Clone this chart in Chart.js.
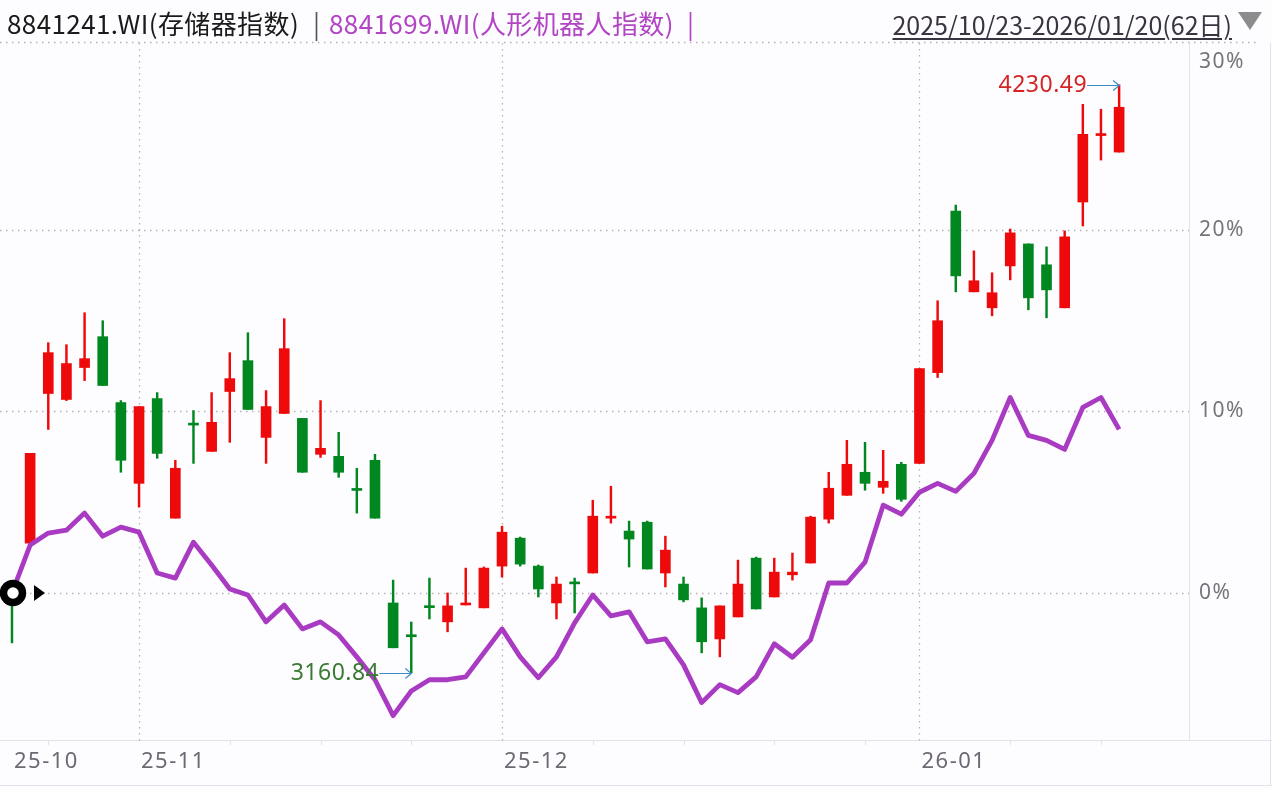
<!DOCTYPE html>
<html>
<head>
<meta charset="utf-8">
<script src="https://cdn.jsdelivr.net/npm/chart.js@4.4.1/dist/chart.umd.min.js"></script>
<style>
  body { margin: 0; background: #fdfdff; width: 1272px; height: 788px; overflow: hidden; position: relative;
         font-family: "Noto Sans CJK SC", "Noto Sans", sans-serif; }
  #chart { position: absolute; left: 0; top: 0; }
  .hd { position: absolute; top: 3px; font-size: 26px; letter-spacing: 0.4px; line-height: 40px; white-space: nowrap; }
  .k { color: #1a1a1a; }
  .p { color: #b145c3; }
  .sep { color: #555; }
  #range { right: 40px; font-size: 25px; letter-spacing: 0; top: 4px; color: #3a3340;
           text-decoration: underline; text-underline-offset: 3px; }
  #tri { position: absolute; left: 1238px; top: 12px; width: 0; height: 0;
         border-left: 12px solid transparent; border-right: 12px solid transparent; border-top: 18px solid #8c8c8c; }
</style>
</head>
<body>
<canvas id="chart" width="1272" height="788"></canvas>
<div class="hd k" style="left:7px">8841241.WI(存储器指数)</div>
<div class="hd sep" style="left:313px">|</div>
<div class="hd p" style="left:329px">8841699.WI(人形机器人指数)</div>
<div class="hd p" style="left:687px">|</div>
<div class="hd" id="range">2025/10/23-2026/01/20(62日)</div>
<div id="tri"></div>
<script>
// 8841241.WI 存储器指数, % change vs 2025/10/23 close
const opens  = [0.3, 2.75, 10.99, 10.66, 12.42, 14.12, 10.49, 6.04, 10.71, 4.12,
                9.35, 7.8, 11.1, 12.8, 8.57, 9.89, 9.62, 7.64, 7.53, 5.75,
                7.31, -0.55, -2.3, -0.7, -1.59, -0.66, -0.82, 1.48, 3.02, 1.48,
                -0.55, 0.6, 1.1, 4.12, 3.41, 3.9, 1.1, 0.49, -0.82, -2.53,
                -1.32, 1.92, -0.22, 1.0, 1.65, 4.07, 5.38, 6.65, 5.82, 7.09,
                7.14, 12.14, 21.04, 16.59, 15.71, 18.02, 19.23, 18.08, 15.71, 21.54,
                25.2, 24.29];
const highs  = [0.5, 7.69, 13.79, 13.68, 15.44, 15.0, 10.6, 10.27, 11.04, 7.31,
                10.05, 11.04, 13.24, 14.34, 11.15, 15.11, 9.62, 10.6, 8.85, 6.87,
                7.64, 0.71, -1.6, 0.82, 0, 1.37, 1.43, 3.68, 3.08, 1.54,
                0.88, 0.82, 5.11, 5.88, 3.96, 3.96, 3.13, 0.88, -0.27, -0.71,
                1.81, 1.98, 1.92, 2.2, 4.23, 6.65, 8.41, 8.3, 7.86, 7.2,
                12.36, 16.1, 21.37, 18.85, 17.64, 20.05, 19.23, 19.07, 19.95, 26.92,
                26.65, 28.0];
const lows   = [-2.75, 2.75, 9.01, 10.6, 11.7, 11.43, 6.65, 4.73, 7.42, 4.12,
                7.14, 7.8, 8.3, 10.11, 7.14, 9.89, 6.65, 7.47, 6.37, 4.4,
                4.12, -3.02, -4.4, -1.43, -2.14, -0.66, -0.82, 0.88, 1.48, -0.22,
                -1.43, -1.1, 1.1, 3.85, 1.43, 1.32, 0.33, -0.49, -3.3, -3.52,
                -1.32, -0.88, -0.22, 0.71, 1.65, 3.85, 5.38, 5.66, 5.49, 5.05,
                7.14, 11.87, 16.59, 16.59, 15.27, 17.25, 15.6, 15.16, 15.71, 20.22,
                23.85, 24.29];
const closes = [0, 7.69, 13.24, 12.64, 12.91, 11.43, 7.31, 10.27, 7.69, 6.87,
                9.25, 9.4, 11.81, 10.11, 10.27, 13.46, 6.65, 7.97, 6.65, 5.65,
                4.12, -3.02, -2.4, -0.8, -0.71, -0.55, 1.37, 3.35, 1.59, 0.22,
                0.49, 0.5, 4.23, 4.23, 2.97, 1.32, 2.36, -0.38, -2.69, -0.71,
                0.49, -0.88, 1.15, 1.15, 4.18, 5.77, 7.09, 6.04, 6.15, 5.16,
                12.36, 15.0, 17.47, 17.2, 16.54, 19.84, 16.26, 16.7, 19.62, 25.27,
                25.3, 26.76];
// 8841699.WI 人形机器人指数, % change
const robot  = [0, 2.64, 3.3, 3.46, 4.4, 3.13, 3.63, 3.35, 1.1, 0.82,
                2.8, 1.54, 0.22, -0.11, -1.59, -0.66, -1.98, -1.59, -2.31, -3.52,
                -4.78, -6.76, -5.4, -4.78, -4.78, -4.62, -3.3, -1.98, -3.52, -4.67,
                -3.52, -1.65, -0.11, -1.26, -1.04, -2.69, -2.53, -3.96, -6.04, -5.05,
                -5.49, -4.62, -2.8, -3.54, -2.58, 0.55, 0.55, 1.7, 4.84, 4.34,
                5.55, 6.04, 5.6, 6.59, 8.41, 10.77, 8.68, 8.41, 7.91, 10.22,
                10.77, 9.01];
const highLabel = '4230.49';
const lowLabel = '3160.84';
const monthLabels = ['25-10', '25-11', '25-12', '26-01'];
const monthIdx = [0, 7, 27, 50];
const minorIdx = [2, 12, 17, 22, 32, 37, 42, 47, 55, 60];
const yTicks = [0, 10, 20, 30];

const RED = '#ee0a0a', GREEN = '#00871f', PURPLE = '#a93bc2';
const colors = closes.map((c, i) => c >= opens[i] ? RED : GREEN);
const wicks = lows.map((l, i) => ({x: i, y: [l, highs[i]]}));
const bodies = opens.map((o, i) => ({x: i, y: [o, closes[i]]}));
const line = robot.map((v, i) => ({x: i, y: v}));

const W = 1272;
const decor = {
  id: 'decor',
  beforeDatasetsDraw(chart) {
    const {ctx, chartArea: a, scales: {x, y}} = chart;
    const seg = (x1, y1, x2, y2) => { ctx.beginPath(); ctx.moveTo(x1, y1); ctx.lineTo(x2, y2); ctx.stroke(); };
    ctx.save();
    ctx.lineWidth = 1;
    ctx.strokeStyle = '#e2e3ea';
    seg(0, a.bottom + 0.5, W, a.bottom + 0.5);
    seg(a.right + 0.5, a.top, a.right + 0.5, a.bottom);
    seg(0, 785.5, W, 785.5);
    seg(W - 1.5, a.top, W - 1.5, 786);
    minorIdx.forEach(i => { const px = Math.round(x.getPixelForValue(i)) + 0.5; seg(px, a.bottom, px, a.bottom + 5); });
    ctx.setLineDash([1.5, 4.5]);
    ctx.strokeStyle = '#b4b4b8';
    ctx.lineWidth = 1.3;
    yTicks.forEach(v => {
      if (v >= 30) return;
      const py = Math.round(y.getPixelForValue(v)) + 0.5;
      seg(a.left, py, a.right, py);
    });
    seg(0, a.top - 0.5, W - 15, a.top - 0.5);
    monthIdx.slice(1).forEach(i => {
      const px = Math.round(x.getPixelForValue(i)) + 0.5;
      seg(px, a.top, px, a.bottom + 5);
    });
    ctx.restore();
  },
  afterDatasetsDraw(chart) {
    const {ctx, chartArea: a, scales: {x, y}} = chart;
    ctx.save();
    // axis labels
    ctx.fillStyle = '#77737b';
    ctx.font = '21px "Noto Sans", sans-serif';
    ctx.letterSpacing = '1.5px';
    ctx.textBaseline = 'middle';
    ctx.textAlign = 'left';
    yTicks.forEach(v => {
      const py = Math.max(y.getPixelForValue(v), a.top + 19);
      ctx.fillText(v + '%', a.right + 10, py);
    });
    ctx.fillStyle = '#6d6873';
    ctx.font = '22px "Noto Sans", sans-serif';
    monthIdx.forEach((i, k) => ctx.fillText(monthLabels[k], x.getPixelForValue(i) + 2, a.bottom + 22));

    // max / min annotations
    ctx.letterSpacing = '0.5px';
    const note = (idx, val, text, color) => {
      const px = x.getPixelForValue(idx), py = Math.round(y.getPixelForValue(val)) + 0.5;
      ctx.strokeStyle = '#3a8cc4';
      ctx.lineWidth = 1.2;
      ctx.beginPath();
      ctx.moveTo(px - 32, py); ctx.lineTo(px, py);
      ctx.moveTo(px - 6, py - 5); ctx.lineTo(px, py); ctx.lineTo(px - 6, py + 5);
      ctx.stroke();
      ctx.fillStyle = color;
      ctx.font = '23px "Noto Sans", sans-serif';
      ctx.textAlign = 'right';
      ctx.fillText(text, px - 32, py);
    };
    const iMax = highs.indexOf(Math.max(...highs));
    const iMin = lows.indexOf(Math.min(...lows));
    note(iMax, highs[iMax], highLabel, '#d42424');
    note(iMin, lows[iMin], lowLabel, '#3a7a32');

    // start marker
    const cx = x.getPixelForValue(0) + 1, cy = y.getPixelForValue(0);
    ctx.beginPath(); ctx.arc(cx, cy, 9.5, 0, Math.PI * 2);
    ctx.fillStyle = '#fff'; ctx.fill();
    ctx.lineWidth = 7.5; ctx.strokeStyle = '#000'; ctx.stroke();
    ctx.beginPath();
    ctx.moveTo(cx + 21, cy - 8); ctx.lineTo(cx + 32, cy); ctx.lineTo(cx + 21, cy + 8); ctx.closePath();
    ctx.fillStyle = '#000'; ctx.fill();
    ctx.restore();
  }
};

new Chart(document.getElementById('chart').getContext('2d'), {
  type: 'bar',
  data: {
    datasets: [
      {type: 'line', data: line, borderColor: PURPLE, borderWidth: 4.8, pointRadius: 0,
       tension: 0, borderJoinStyle: 'round', order: 0},
      {data: bodies, backgroundColor: colors, barThickness: 10, minBarLength: 2, grouped: false, order: 1},
      {data: wicks, backgroundColor: colors, barThickness: 1.8, grouped: false, order: 2}
    ]
  },
  options: {
    responsive: false,
    animation: false,
    layout: {padding: {left: 0, right: 83, top: 43, bottom: 48}},
    plugins: {legend: {display: false}, tooltip: {enabled: false}},
    scales: {
      x: {type: 'linear', display: false, min: -0.66, max: 64.85, offset: false},
      y: {type: 'linear', display: false, min: -8.1, max: 30.3}
    }
  },
  plugins: [decor]
});
</script>
</body>
</html>
